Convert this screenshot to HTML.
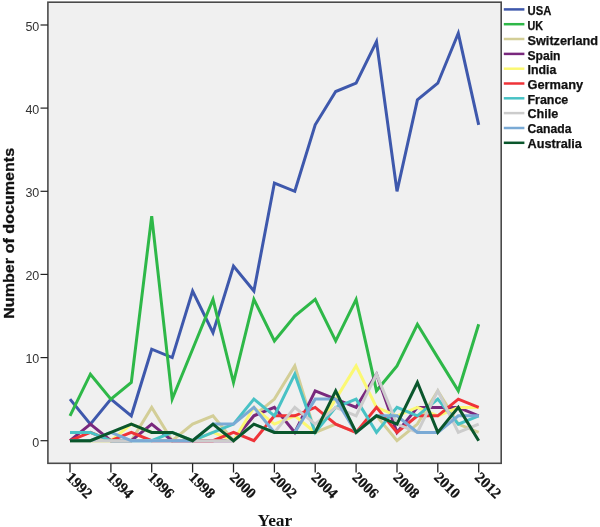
<!DOCTYPE html>
<html><head><meta charset="utf-8"><title>Number of documents per year</title>
<style>html,body{margin:0;padding:0;background:#fff}svg{display:block;filter:blur(0.45px)}.yt{font-family:"Liberation Sans",sans-serif;font-size:12.5px;fill:#333}.xt{font-family:"Liberation Serif",serif;font-size:15px;font-weight:bold;fill:#111;stroke:#111;stroke-width:0.25px}.lg{font-family:"Liberation Sans",sans-serif;font-size:12px;font-weight:bold;fill:#111;stroke:#111;stroke-width:0.25px}.yl{font-family:"Liberation Sans",sans-serif;font-size:14.5px;font-weight:bold;fill:#111;stroke:#111;stroke-width:0.3px}.xl{font-family:"Liberation Serif",serif;font-size:17px;font-weight:bold;fill:#111}.s{fill:none;stroke-width:3;stroke-linejoin:miter;stroke-miterlimit:5;stroke-linecap:butt}</style></head><body>
<svg width="600" height="527" viewBox="0 0 600 527">
<rect x="0" y="0" width="600" height="527" fill="#fff"/>
<rect x="47.9" y="2.2" width="453.3" height="461.1" fill="#F0F0F0" stroke="#4a4a4a" stroke-width="1.6"/>
<line x1="40.5" y1="440.7" x2="47.9" y2="440.7" stroke="#222" stroke-width="1.2"/>
<text class="yt" x="39.3" y="446.5" text-anchor="end">0</text>
<line x1="40.5" y1="357.6" x2="47.9" y2="357.6" stroke="#222" stroke-width="1.2"/>
<text class="yt" x="39.3" y="363.4" text-anchor="end">10</text>
<line x1="40.5" y1="274.4" x2="47.9" y2="274.4" stroke="#222" stroke-width="1.2"/>
<text class="yt" x="39.3" y="280.2" text-anchor="end">20</text>
<line x1="40.5" y1="191.3" x2="47.9" y2="191.3" stroke="#222" stroke-width="1.2"/>
<text class="yt" x="39.3" y="197.1" text-anchor="end">30</text>
<line x1="40.5" y1="108.1" x2="47.9" y2="108.1" stroke="#222" stroke-width="1.2"/>
<text class="yt" x="39.3" y="113.9" text-anchor="end">40</text>
<line x1="40.5" y1="25.0" x2="47.9" y2="25.0" stroke="#222" stroke-width="1.2"/>
<text class="yt" x="39.3" y="30.8" text-anchor="end">50</text>
<line x1="70.0" y1="463.3" x2="70.0" y2="472.5" stroke="#222" stroke-width="1.3"/>
<text class="xt" transform="translate(65.4,478.2) rotate(45)">1992</text>
<line x1="110.9" y1="463.3" x2="110.9" y2="472.5" stroke="#222" stroke-width="1.3"/>
<text class="xt" transform="translate(106.3,478.2) rotate(45)">1994</text>
<line x1="151.7" y1="463.3" x2="151.7" y2="472.5" stroke="#222" stroke-width="1.3"/>
<text class="xt" transform="translate(147.1,478.2) rotate(45)">1996</text>
<line x1="192.6" y1="463.3" x2="192.6" y2="472.5" stroke="#222" stroke-width="1.3"/>
<text class="xt" transform="translate(188.0,478.2) rotate(45)">1998</text>
<line x1="233.5" y1="463.3" x2="233.5" y2="472.5" stroke="#222" stroke-width="1.3"/>
<text class="xt" transform="translate(228.9,478.2) rotate(45)">2000</text>
<line x1="274.4" y1="463.3" x2="274.4" y2="472.5" stroke="#222" stroke-width="1.3"/>
<text class="xt" transform="translate(269.8,478.2) rotate(45)">2002</text>
<line x1="315.2" y1="463.3" x2="315.2" y2="472.5" stroke="#222" stroke-width="1.3"/>
<text class="xt" transform="translate(310.6,478.2) rotate(45)">2004</text>
<line x1="356.1" y1="463.3" x2="356.1" y2="472.5" stroke="#222" stroke-width="1.3"/>
<text class="xt" transform="translate(351.5,478.2) rotate(45)">2006</text>
<line x1="397.0" y1="463.3" x2="397.0" y2="472.5" stroke="#222" stroke-width="1.3"/>
<text class="xt" transform="translate(392.4,478.2) rotate(45)">2008</text>
<line x1="437.8" y1="463.3" x2="437.8" y2="472.5" stroke="#222" stroke-width="1.3"/>
<text class="xt" transform="translate(433.2,478.2) rotate(45)">2010</text>
<line x1="478.7" y1="463.3" x2="478.7" y2="472.5" stroke="#222" stroke-width="1.3"/>
<text class="xt" transform="translate(474.1,478.2) rotate(45)">2012</text>
<g class="s">
<polyline points="70.0,399.1 90.4,424.1 110.9,399.1 131.3,415.8 151.7,349.2 172.2,357.6 192.6,291.0 213.0,332.6 233.5,266.1 253.9,291.0 274.4,183.0 294.8,191.3 315.2,124.8 335.7,91.5 356.1,83.2 376.5,41.6 397.0,191.3 417.4,99.8 437.8,83.2 458.3,33.3 478.7,124.8" stroke="#3E58AC"/>
<polyline points="70.0,415.8 90.4,374.2 110.9,399.1 131.3,382.5 151.7,216.2 172.2,399.1 192.6,349.2 213.0,299.4 233.5,382.5 253.9,299.4 274.4,340.9 294.8,316.0 315.2,299.4 335.7,340.9 356.1,299.4 376.5,390.8 397.0,365.9 417.4,324.3 437.8,357.6 458.3,390.8 478.7,324.3" stroke="#2EB848"/>
<polyline points="70.0,440.7 90.4,440.7 110.9,440.7 131.3,440.7 151.7,407.4 172.2,440.7 192.6,424.1 213.0,415.8 233.5,440.7 253.9,415.8 274.4,399.1 294.8,365.9 315.2,432.4 335.7,424.1 356.1,432.4 376.5,415.8 397.0,440.7 417.4,424.1 437.8,390.8 458.3,424.1 478.7,432.4" stroke="#D3CE97"/>
<polyline points="70.0,440.7 90.4,424.1 110.9,440.7 131.3,440.7 151.7,424.1 172.2,440.7 192.6,440.7 213.0,440.7 233.5,440.7 253.9,415.8 274.4,407.4 294.8,432.4 315.2,390.8 335.7,399.1 356.1,407.4 376.5,374.2 397.0,432.4 417.4,407.4 437.8,407.4 458.3,407.4 478.7,415.8" stroke="#79287D"/>
<polyline points="70.0,440.7 90.4,440.7 110.9,440.7 131.3,424.1 151.7,432.4 172.2,432.4 192.6,440.7 213.0,432.4 233.5,440.7 253.9,407.4 274.4,424.1 294.8,415.8 315.2,432.4 335.7,399.1 356.1,365.9 376.5,407.4 397.0,415.8 417.4,407.4 437.8,415.8 458.3,407.4 478.7,407.4" stroke="#FBF873"/>
<polyline points="70.0,440.7 90.4,432.4 110.9,440.7 131.3,432.4 151.7,440.7 172.2,440.7 192.6,440.7 213.0,440.7 233.5,432.4 253.9,440.7 274.4,415.8 294.8,415.8 315.2,407.4 335.7,424.1 356.1,432.4 376.5,407.4 397.0,432.4 417.4,415.8 437.8,415.8 458.3,399.1 478.7,407.4" stroke="#EF3338"/>
<polyline points="70.0,432.4 90.4,432.4 110.9,440.7 131.3,440.7 151.7,440.7 172.2,432.4 192.6,440.7 213.0,432.4 233.5,424.1 253.9,399.1 274.4,415.8 294.8,374.2 315.2,432.4 335.7,407.4 356.1,399.1 376.5,432.4 397.0,407.4 417.4,415.8 437.8,399.1 458.3,424.1 478.7,415.8" stroke="#48C2C5"/>
<polyline points="70.0,440.7 90.4,440.7 110.9,440.7 131.3,440.7 151.7,440.7 172.2,440.7 192.6,440.7 213.0,440.7 233.5,440.7 253.9,424.1 274.4,432.4 294.8,407.4 315.2,424.1 335.7,407.4 356.1,415.8 376.5,374.2 397.0,424.1 417.4,432.4 437.8,390.8 458.3,432.4 478.7,424.1" stroke="#CCCCCC"/>
<polyline points="70.0,440.7 90.4,440.7 110.9,432.4 131.3,440.7 151.7,440.7 172.2,440.7 192.6,440.7 213.0,424.1 233.5,424.1 253.9,407.4 274.4,432.4 294.8,432.4 315.2,399.1 335.7,399.1 356.1,432.4 376.5,415.8 397.0,415.8 417.4,432.4 437.8,432.4 458.3,415.8 478.7,415.8" stroke="#7AAAD5"/>
<polyline points="70.0,440.7 90.4,440.7 110.9,432.4 131.3,424.1 151.7,432.4 172.2,432.4 192.6,440.7 213.0,424.1 233.5,440.7 253.9,424.1 274.4,432.4 294.8,432.4 315.2,432.4 335.7,390.8 356.1,432.4 376.5,415.8 397.0,424.1 417.4,382.5 437.8,432.4 458.3,407.4 478.7,440.7" stroke="#0A562C"/>
</g>
<line x1="503.8" y1="9.4" x2="524.4" y2="9.4" stroke="#3E58AC" stroke-width="2.5"/>
<text class="lg" x="527.5" y="15.4" textLength="23.8" lengthAdjust="spacingAndGlyphs">USA</text>
<line x1="503.8" y1="24.2" x2="524.4" y2="24.2" stroke="#2EB848" stroke-width="2.5"/>
<text class="lg" x="527.5" y="30.1" textLength="15.6" lengthAdjust="spacingAndGlyphs">UK</text>
<line x1="503.8" y1="39.0" x2="524.4" y2="39.0" stroke="#D3CE97" stroke-width="2.5"/>
<text class="lg" x="527.5" y="44.8" textLength="70.6" lengthAdjust="spacingAndGlyphs">Switzerland</text>
<line x1="503.8" y1="53.9" x2="524.4" y2="53.9" stroke="#79287D" stroke-width="2.5"/>
<text class="lg" x="527.5" y="59.5" textLength="33" lengthAdjust="spacingAndGlyphs">Spain</text>
<line x1="503.8" y1="68.7" x2="524.4" y2="68.7" stroke="#FBF873" stroke-width="2.5"/>
<text class="lg" x="527.5" y="74.2" textLength="28.8" lengthAdjust="spacingAndGlyphs">India</text>
<line x1="503.8" y1="83.5" x2="524.4" y2="83.5" stroke="#EF3338" stroke-width="2.5"/>
<text class="lg" x="527.5" y="88.9" textLength="55.6" lengthAdjust="spacingAndGlyphs">Germany</text>
<line x1="503.8" y1="98.3" x2="524.4" y2="98.3" stroke="#48C2C5" stroke-width="2.5"/>
<text class="lg" x="527.5" y="103.6" textLength="40.8" lengthAdjust="spacingAndGlyphs">France</text>
<line x1="503.8" y1="113.1" x2="524.4" y2="113.1" stroke="#CCCCCC" stroke-width="2.5"/>
<text class="lg" x="527.5" y="118.3" textLength="30.8" lengthAdjust="spacingAndGlyphs">Chile</text>
<line x1="503.8" y1="128.0" x2="524.4" y2="128.0" stroke="#7AAAD5" stroke-width="2.5"/>
<text class="lg" x="527.5" y="133.0" textLength="44" lengthAdjust="spacingAndGlyphs">Canada</text>
<line x1="503.8" y1="142.8" x2="524.4" y2="142.8" stroke="#0A562C" stroke-width="2.5"/>
<text class="lg" x="527.5" y="147.7" textLength="54.3" lengthAdjust="spacingAndGlyphs">Australia</text>
<text class="yl" transform="translate(13.5,318.8) rotate(-90)" textLength="171" lengthAdjust="spacingAndGlyphs">Number of documents</text>
<text class="xl" x="257.5" y="525.9" textLength="34.8" lengthAdjust="spacingAndGlyphs">Year</text>
</svg></body></html>
